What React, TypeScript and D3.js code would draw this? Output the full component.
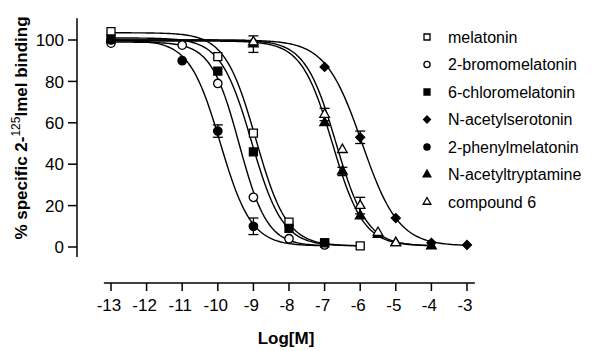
import React, { useEffect, useRef } from 'react';
import * as d3 from 'd3';

// measured points (log molar, % specific binding)
const melatoninX = [-13, -10, -9, -8, -7, -6];
const melatoninY = [104, 92, 55, 12, 2, 0.5];
const bromoX = [-13, -11, -10, -9, -8, -7];
const bromoY = [98.5, 97.5, 79, 24, 4, 1];
const chloroX = [-13, -10, -9, -8, -7];
const chloroY = [100.5, 85, 46, 9, 2];
const serotoninX = [-9, -7, -6, -5, -4, -3];
const serotoninY = [99, 87, 53, 14, 2, 1];
const phenylX = [-13, -11, -10, -9];
const phenylY = [100, 90, 56, 10];
const tryptamineX = [-9, -7, -6.5, -6, -5.5, -5, -4];
const tryptamineY = [98, 60, 36.5, 15, 6, 2, 0.5];
const compound6X = [-9, -7, -6.5, -6, -5.5, -5];
const compound6Y = [99, 64, 47, 20, 7, 2];

// SEM where a bar is visible
const tryptamineErr = [4, 0, 2, 0, 0, 0, 0];
const phenylErr = [0, 0, 3, 4];
const compound6Err = [0, 3, 0, 4, 0, 0];
const serotoninErr = [0, 0, 3, 0, 0, 0];

// sigmoid fit: top, bottom, logIC50, hill, x range
const fitTop = [103.5, 99, 101, 100, 100, 99.5, 100];
const fitBottom = [0.5, 0.5, 0.5, 0.5, 0.5, 0.5, 0.5];
const fitLogIC50 = [-8.93, -9.4, -9.05, -5.95, -9.93, -6.78, -6.68];
const fitHill = [1.0, 1.1, 1.0, 0.85, 1.0, 1.0, 1.0];
const fitFrom = [-13, -13, -13, -13, -13, -13, -13];
const fitTo = [-6, -7, -6, -3, -7, -4, -4];

const names = ['melatonin', '2-bromomelatonin', '6-chloromelatonin', 'N-acetylserotonin',
  '2-phenylmelatonin', 'N-acetyltryptamine', 'compound 6'];
const shapes = ['square', 'circle', 'square', 'diamond', 'circle', 'triangle', 'triangle'];
const filled = [false, false, true, true, true, true, false];

const xTicks = d3.range(-13, -2, 1);
const yTicks = [0, 20, 40, 60, 80, 100];

const series = [
  { xs: melatoninX, ys: melatoninY, err: null },
  { xs: bromoX, ys: bromoY, err: null },
  { xs: chloroX, ys: chloroY, err: null },
  { xs: serotoninX, ys: serotoninY, err: serotoninErr },
  { xs: phenylX, ys: phenylY, err: phenylErr },
  { xs: tryptamineX, ys: tryptamineY, err: tryptamineErr },
  { xs: compound6X, ys: compound6Y, err: compound6Err },
];

const W = 604;
const H = 351;
const FONT = 'Liberation Sans, Arial, sans-serif';

const symbolType = (s: string) => {
  if (s === 'square') return d3.symbolSquare;
  if (s === 'circle') return d3.symbolCircle;
  if (s === 'triangle') return d3.symbolTriangle;
  return d3.symbolSquare; // diamond = rotated square
};

const App = () => {
  const svgRef = useRef<SVGSVGElement | null>(null);

  useEffect(() => {
    const svg = d3.select(svgRef.current);
    svg.selectAll('*').remove();

    const x = d3.scaleLinear().domain([-13, -3]).range([111, 467]);
    const y = d3.scaleLinear().domain([0, 100]).range([247, 40]);

    // y axis
    const yAxisX = 77;
    svg.append('line')
      .attr('x1', yAxisX).attr('x2', yAxisX)
      .attr('y1', y(110.5)).attr('y2', y(-4.8))
      .attr('stroke', '#000').attr('stroke-width', 1.5);
    const yt = svg.append('g');
    yTicks.forEach(t => {
      yt.append('line')
        .attr('x1', yAxisX - 9).attr('x2', yAxisX)
        .attr('y1', y(t)).attr('y2', y(t))
        .attr('stroke', '#000').attr('stroke-width', 1.5);
      yt.append('text')
        .attr('x', yAxisX - 13).attr('y', y(t))
        .attr('dy', '0.36em')
        .attr('text-anchor', 'end')
        .style('font-family', FONT).style('font-size', '17px')
        .text(t);
    });

    // x axis
    const xAxisY = 283;
    svg.append('line')
      .attr('x1', x(-13.2)).attr('x2', x(-2.78))
      .attr('y1', xAxisY).attr('y2', xAxisY)
      .attr('stroke', '#000').attr('stroke-width', 1.5);
    xTicks.forEach(t => {
      svg.append('line')
        .attr('x1', x(t)).attr('x2', x(t))
        .attr('y1', xAxisY).attr('y2', xAxisY + 8)
        .attr('stroke', '#000').attr('stroke-width', 1.5);
      svg.append('text')
        .attr('x', x(t) - 2).attr('y', 311)
        .attr('text-anchor', 'middle')
        .style('font-family', FONT).style('font-size', '17px')
        .text(t);
    });

    // axis titles
    svg.append('text')
      .attr('x', 286).attr('y', 344)
      .attr('text-anchor', 'middle')
      .style('font-family', FONT).style('font-size', '17px').style('font-weight', 'bold')
      .text('Log[M]');

    const yl = svg.append('text')
      .attr('transform', `translate(27, 128) rotate(-90)`)
      .attr('text-anchor', 'middle')
      .style('font-family', FONT).style('font-size', '17px').style('font-weight', 'bold');
    yl.append('tspan').text('% specific 2-');
    yl.append('tspan').attr('dy', -7).style('font-size', '12px').style('font-weight', 'normal').text('125');
    yl.append('tspan').attr('dy', 7).text('Imel binding');

    // fitted curves
    const line = d3.line<number>().x(d => x(d[0])).y(d => y(d[1])).curve(d3.curveLinear);
    names.forEach((_, i) => {
      const pts = d3.range(fitFrom[i], fitTo[i] + 0.001, 0.05).map(lx => {
        const v = fitBottom[i] + (fitTop[i] - fitBottom[i]) / (1 + Math.pow(10, (lx - fitLogIC50[i]) * fitHill[i]));
        return [lx, v];
      });
      svg.append('path')
        .attr('d', line(pts as any))
        .attr('fill', 'none')
        .attr('stroke', '#000')
        .attr('stroke-width', 1.4);
    });

    // error bars + symbols
    const sizes: Record<string, number> = { square: 64, circle: 56, triangle: 40, diamond: 40 };
    const drawSymbol = (g: any, shape: string, fill: boolean, cx: number, cy: number, size: number) => {
      const sym = d3.symbol().type(symbolType(shape)).size(size);
      g.append('path')
        .attr('d', sym())
        .attr('transform', `translate(${cx},${cy})${shape === 'diamond' ? ' rotate(45)' : ''}`)
        .attr('fill', fill ? '#000' : '#fff')
        .attr('stroke', '#000')
        .attr('stroke-width', 1.3);
    };

    series.forEach((s, i) => {
      const g = svg.append('g');
      s.xs.forEach((lx, j) => {
        const e = s.err ? s.err[j] : 0;
        if (e > 0) {
          const px = x(lx);
          g.append('line').attr('x1', px).attr('x2', px)
            .attr('y1', y(s.ys[j] - e)).attr('y2', y(s.ys[j] + e))
            .attr('stroke', '#000').attr('stroke-width', 1.3);
          [s.ys[j] - e, s.ys[j] + e].forEach(v => {
            g.append('line').attr('x1', px - 5).attr('x2', px + 5)
              .attr('y1', y(v)).attr('y2', y(v))
              .attr('stroke', '#000').attr('stroke-width', 1.3);
          });
        }
        drawSymbol(g, shapes[i], filled[i], x(lx), y(s.ys[j]), sizes[shapes[i]]);
      });
    });

    // legend
    const lg = svg.append('g');
    names.forEach((n, i) => {
      const ly = 37 + i * 27.5;
      const small: Record<string, number> = { square: 36, circle: 30, triangle: 26, diamond: 24 };
      drawSymbol(lg, shapes[i], filled[i], 427, ly, small[shapes[i]]);
      lg.append('text')
        .attr('x', 448).attr('y', ly)
        .attr('dy', '0.36em')
        .style('font-family', FONT).style('font-size', '16px')
        .text(n);
    });
  }, []);

  return (
    <svg ref={svgRef} width={W} height={H}
      style={{ position: 'absolute', left: 0, top: 0, background: '#fff' }} />
  );
};

export default App;
